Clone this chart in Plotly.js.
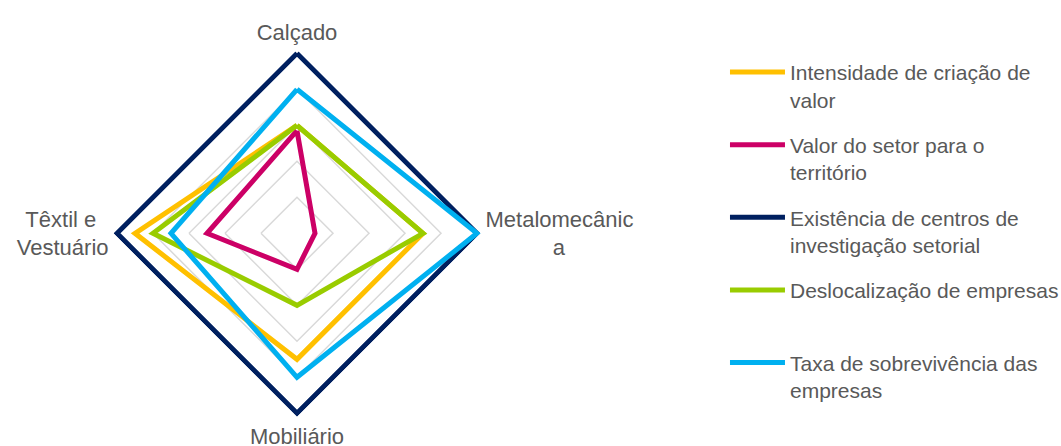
<!DOCTYPE html>
<html>
<head>
<meta charset="utf-8">
<script src="https://cdn.plot.ly/plotly-3.0.1.min.js"></script>
<style>
  html, body { margin: 0; padding: 0; background: #ffffff; }
  #chart { width: 1061px; height: 446px; }
</style>
</head>
<body>
<div id="chart"></div>
<script>
// Sectors on the angular axis (clockwise from the top)
const sectors = ['Calçado', 'Metalomecânica', 'Mobiliário', 'Têxtil e Vestuário'];
// Wrapped labels shown at each spoke
const sectorLabels = [
  'Calçado',
  'Metalomecânic<br>\u00a0\u00a0\u00a0\u00a0\u00a0\u00a0\u00a0\u00a0\u00a0\u00a0\u00a0a',
  'Mobiliário',
  'Têxtil e\u00a0\u00a0<br>Vestuário'
];

// Scores per criterion (0–5), in the order of `sectors`
const intensidadeCriacaoValor = [3, 3.5, 3.5, 4.5];
const valorSetorTerritorio    = [2.85, 0.5, 1, 2.5];
const centrosInvestigacao     = [5, 5, 5, 5];
const deslocalizacaoEmpresas  = [3, 3.5, 2, 4];
const taxaSobrevivencia       = [4, 5, 4, 3.5];

const seriesNames = [
  'Intensidade de criação de<br>valor',
  'Valor do setor para o<br>território',
  'Existência de centros de<br>investigação setorial',
  'Deslocalização de empresas<br>\u00a0',
  'Taxa de sobrevivência das<br>empresas'
];
const seriesValues = [
  intensidadeCriacaoValor,
  valorSetorTerritorio,
  centrosInvestigacao,
  deslocalizacaoEmpresas,
  taxaSobrevivencia
];
const seriesColors = ['#FFC000', '#CC0066', '#002060', '#99CC00', '#00B0F0'];

// close each polygon by repeating the first point
const closeLoop = arr => arr.concat([arr[0]]);

const traces = seriesValues.map((vals, i) => ({
  type: 'scatterpolar',
  mode: 'lines',
  r: closeLoop(vals),
  theta: closeLoop(sectors),
  name: seriesNames[i],
  legendgroup: 'g' + i,
  line: { color: seriesColors[i], width: 5 },
  hoverinfo: 'skip'
}));

// radial range runs a little past 5 so the outer polygon is not clipped
const radialMax = 5.1;

const layout = {
  width: 1061,
  height: 446,
  margin: { l: 0, r: 0, t: 0, b: 0, autoexpand: false },
  paper_bgcolor: '#ffffff',
  font: { family: 'Liberation Sans, Arial, sans-serif', color: '#595959' },
  showlegend: true,
  legend: {
    x: 0.6833,
    xanchor: 'left',
    y: 0.8835,
    yanchor: 'top',
    valign: 'top',
    traceorder: 'grouped',
    tracegroupgap: 15,
    itemwidth: 55,
    font: { size: 21, color: '#595959' },
    bgcolor: 'rgba(0,0,0,0)'
  },
  polar: {
    domain: { x: [0.10688, 0.45297], y: [0.06525, 0.88857] },
    gridshape: 'linear',
    bgcolor: 'rgba(0,0,0,0)',
    radialaxis: {
      range: [0, radialMax],
      tick0: 0,
      dtick: 1,
      showticklabels: false,
      ticks: '',
      showline: false,
      gridcolor: '#d9d9d9',
      gridwidth: 1.5
    },
    angularaxis: {
      rotation: 90,
      direction: 'clockwise',
      showgrid: false,
      showline: false,
      ticks: 'outside',
      ticklen: 0,
      tickcolor: 'rgba(0,0,0,0)',
      tickmode: 'array',
      tickvals: sectors,
      ticktext: sectorLabels,
      tickfont: { size: 22, color: '#595959' }
    }
  }
};

Plotly.newPlot('chart', traces, layout, { staticPlot: true, displayModeBar: false });
</script>
</body>
</html>
